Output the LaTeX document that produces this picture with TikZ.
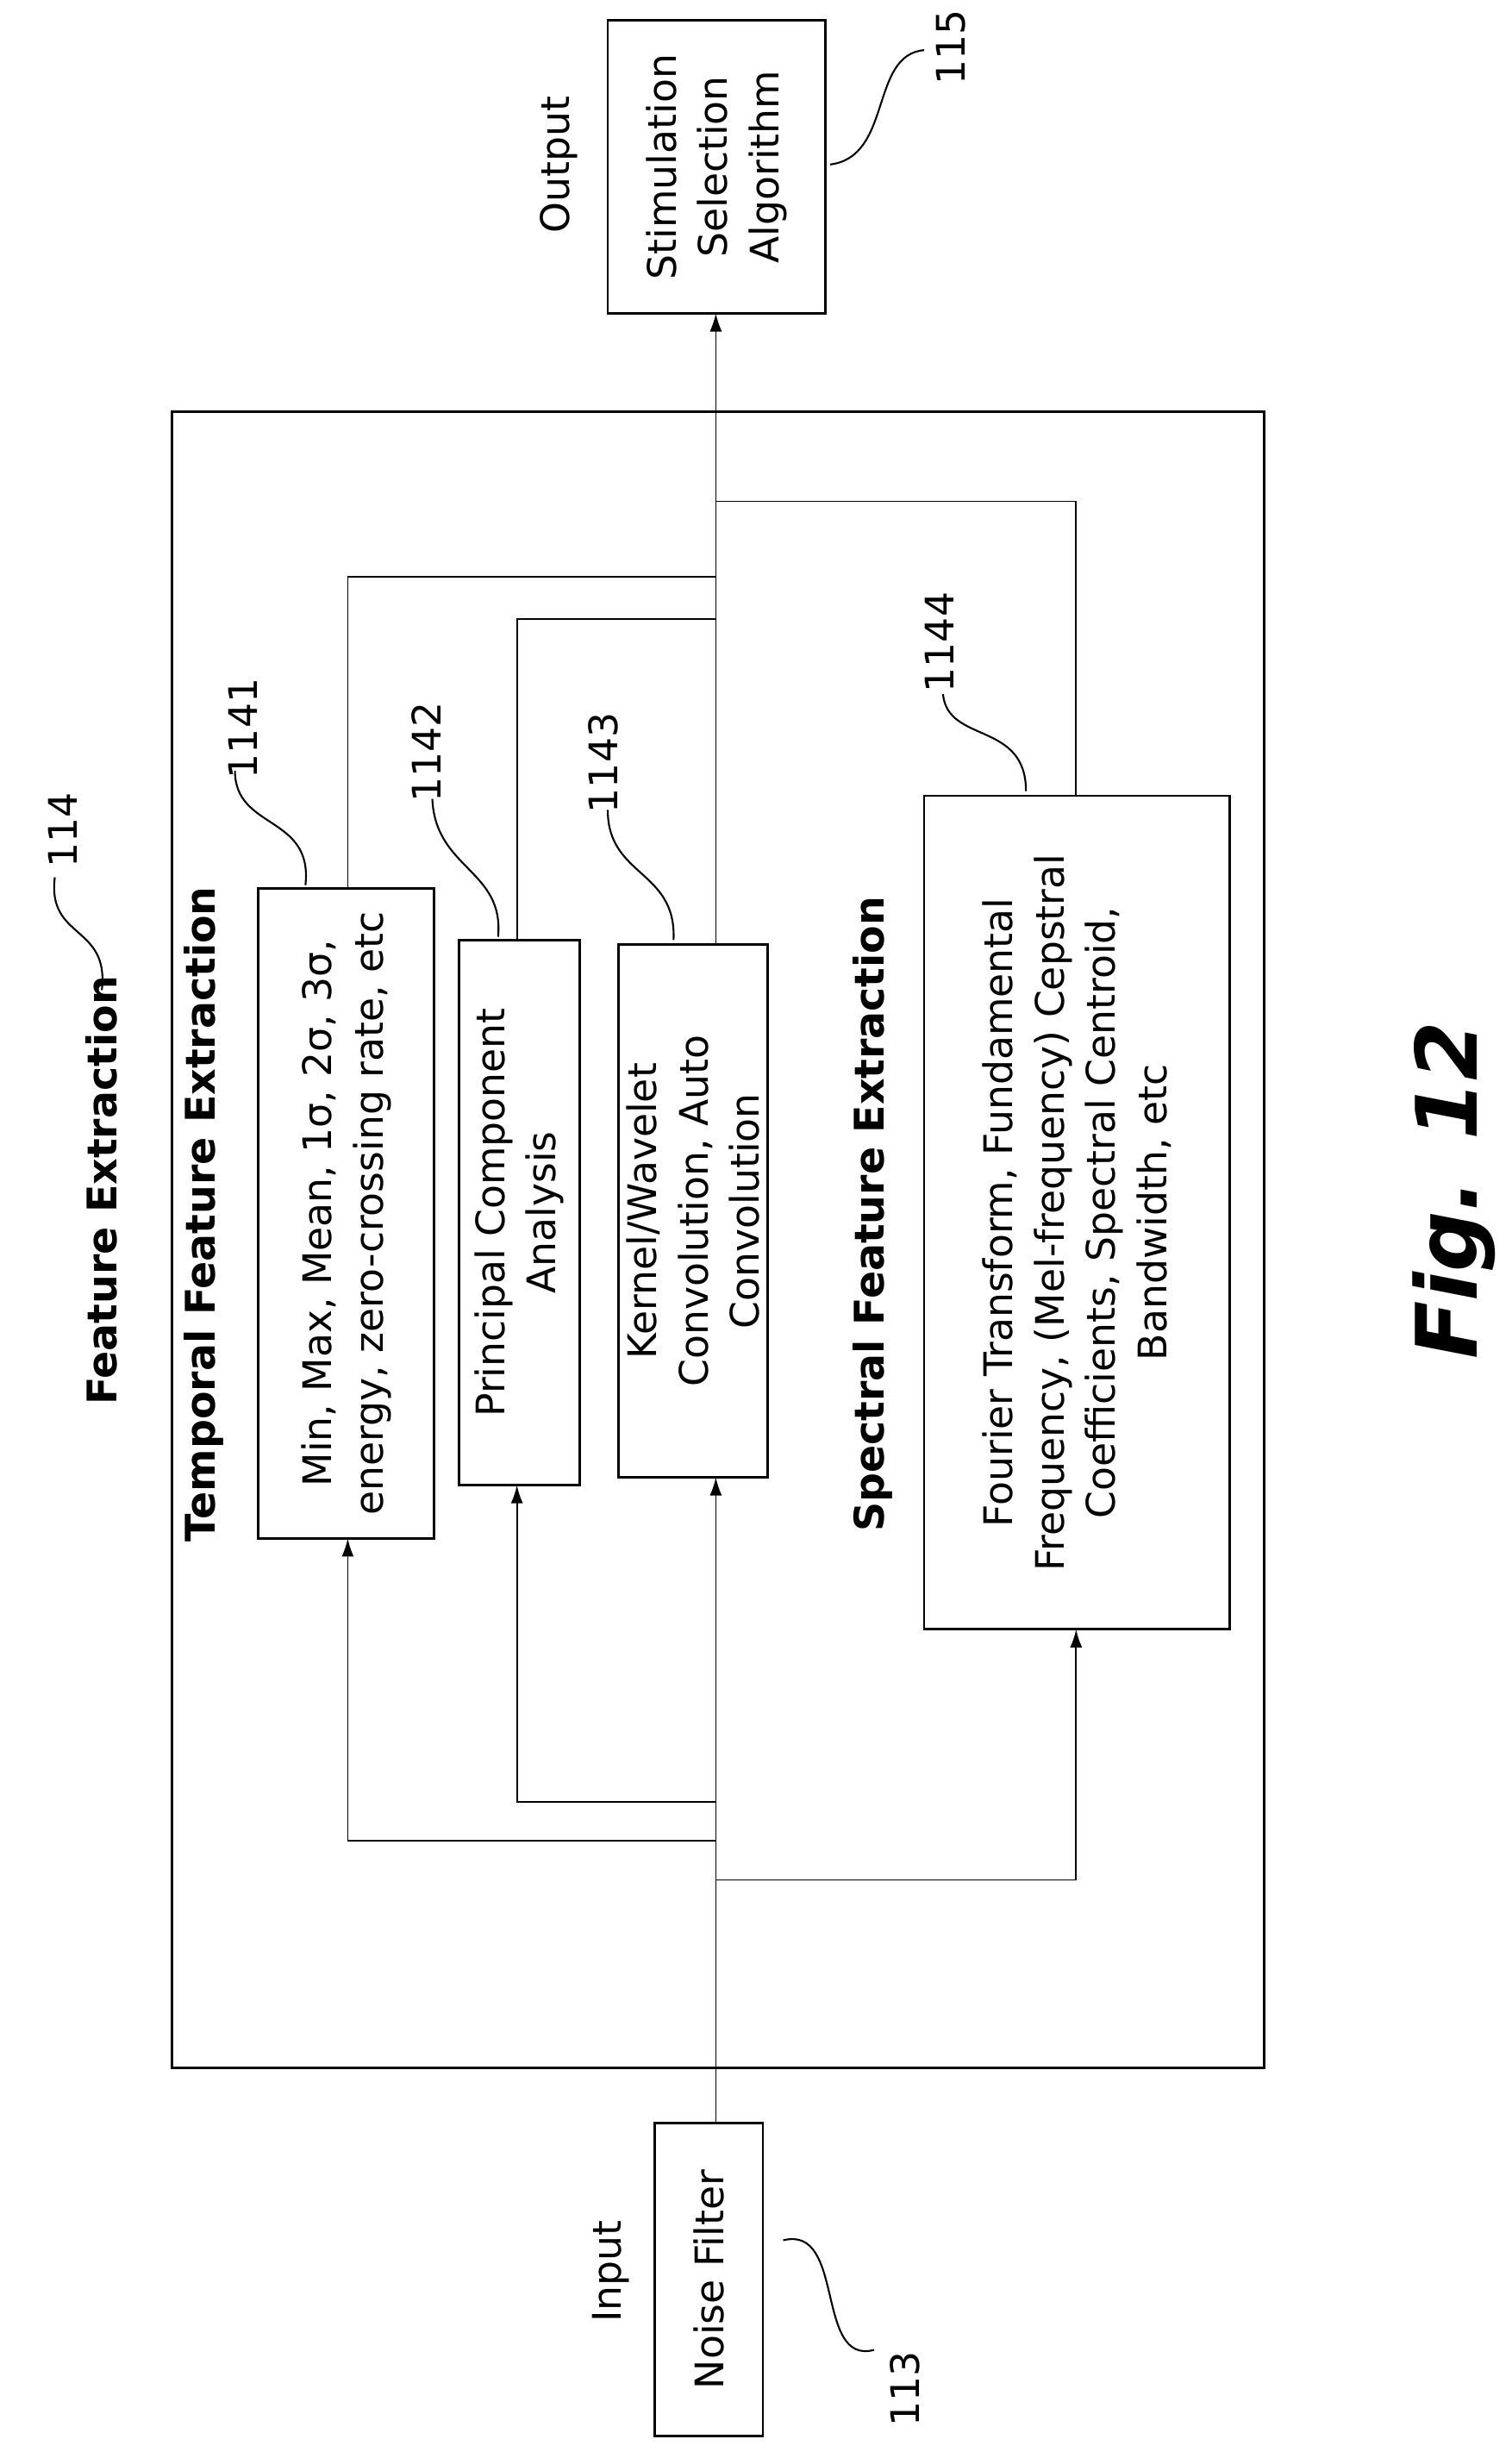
\documentclass[tikz,border=0pt]{standalone}
\usepackage{fontspec}
\setmainfont{DejaVu Sans}
\usetikzlibrary{arrows.meta}
\newcommand\px{0.01817cm}

\begin{document}
\begin{tikzpicture}
[
    x=0.01817cm, y=-0.01817cm,
    box/.style={draw, line width=0.8pt, rotate=90, align=center, inner sep=2pt,
        font=\fontsize{13}{17}\selectfont},
    lbl/.style={rotate=90, font=\fontsize{13}{17}\selectfont},
    head/.style={rotate=90, font=\bfseries\fontsize{13.5}{17}\selectfont},
    wire/.style={line width=0.5pt, -{Latex[length=6pt,width=4pt]}},
    link/.style={line width=0.5pt},
    lead/.style={line width=0.6pt},
]
\useasboundingbox (0,0) rectangle (965,1569);

% frame
\draw[line width=0.8pt] (110,263) rectangle (807,1320);
\node[head] (fe) at (65,760) {Feature Extraction};
\node[head] (tfe) at (130,775) {Temporal Feature Extraction};
\node[head] (sfe) at (557,775) {Spectral Feature Extraction};

% boxes
\node[box, minimum width=200*\px, minimum height=69*\px] (nf) at (452.5,1455) {Noise Filter};
\node[box, minimum width=187*\px, minimum height=139*\px] (ssa) at (457.5,106.5)
    {Stimulation\\Selection\\Algorithm};
\node[box, minimum width=415*\px, minimum height=112*\px] (b1141) at (221,774.5)
    {Min, Max, Mean, 1σ, 2σ, 3σ,\\energy, zero-crossing rate, etc};
\node[box, minimum width=348*\px, minimum height=77*\px] (b1142) at (331.5,774)
    {Principal Component\\Analysis};
\node[box, minimum width=340*\px, minimum height=95*\px] (b1143) at (442.5,773)
    {Kernel/Wavelet\\Convolution, Auto\\Convolution};
\node[box, minimum width=532*\px, minimum height=195*\px] (b1144) at (687.5,774)
    {Fourier Transform, Fundamental\\Frequency, (Mel-frequency) Cepstral\\Coefficients, Spectral Centroid,\\Bandwidth, etc};

\node[lbl] (in) at (390,1450) {Input};
\node[lbl] (out) at (357,105) {Output};

% main path
\coordinate (mi) at (457,1355);
\draw[wire] (mi) -- (457,943);
\draw[wire] (457,603) -- (457,200);
\coordinate (j1) at (457,1175);
\coordinate (j2) at (457,1150);
\coordinate (j4) at (457,1200);
\draw[wire] (j1) -- (222,1175) -- (222,982);
\draw[wire] (j2) -- (330,1150) -- (330,948);
\draw[wire] (j4) -- (687,1200) -- (687,1040);
\draw[link] (222,567) -- (222,368) -- (457,368);
\draw[link] (330,600) -- (330,395) -- (457,395);
\draw[link] (687,508) -- (687,320) -- (457,320);

% reference numerals
\node[lbl] (n113) at (578,1525) {113};
\node[lbl] (n114) at (40,530) {114};
\node[lbl] (n115) at (607,30) {115};
\node[lbl] (n1141) at (155,465) {1141};
\node[lbl] (n1142) at (272,480) {1142};
\node[lbl] (n1143) at (385,487) {1143};
\node[lbl] (n1144) at (600,410) {1144};
\draw[lead] (500,1430) .. controls (540,1420) and (520,1510) .. (558,1500);
\draw[lead] (65,632) .. controls (70,590) and (30,600) .. (35,560);
\draw[lead] (530,105) .. controls (570,100) and (555,35) .. (590,32);
\draw[lead] (195,565) .. controls (200,520) and (150,530) .. (150,492);
\draw[lead] (318,598) .. controls (322,555) and (278,555) .. (276,510);
\draw[lead] (430,600) .. controls (432,555) and (388,560) .. (388,517);
\draw[lead] (655,505) .. controls (655,460) and (605,475) .. (602,443);

\node[rotate=90, font=\bfseries\itshape\fontsize{28}{32}\selectfont] (fig) at (928,760) {Fig. 12};
\end{tikzpicture}
\end{document}
